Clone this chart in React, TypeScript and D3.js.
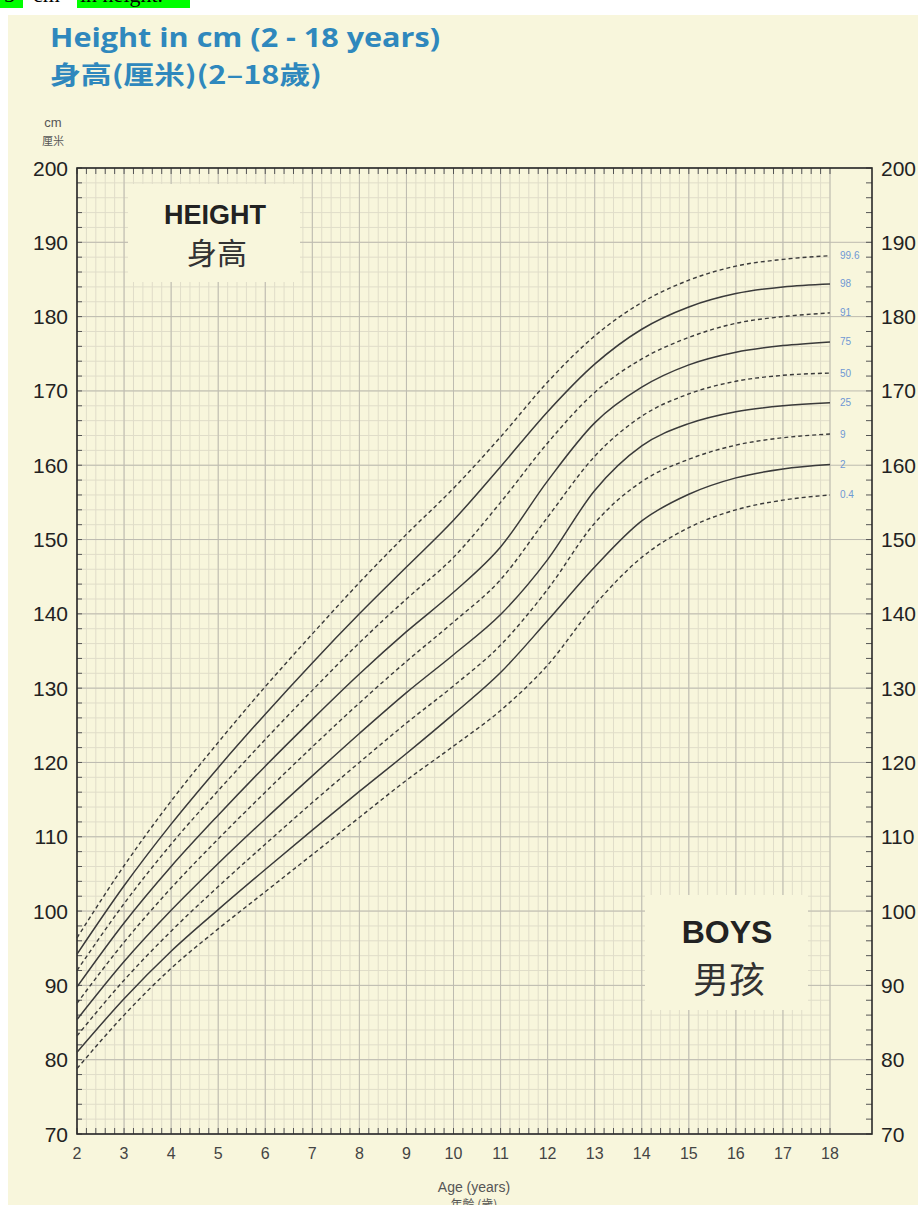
import React from "react";
import * as d3 from "d3";

// ---------- data ----------
const ages = [2, 3, 4, 5, 6, 7, 8, 9, 10, 11, 12, 13, 14, 15, 16, 17, 18];
const p0_4 = [78.8, 86.0, 92.3, 97.6, 102.6, 107.6, 112.6, 117.6, 122.2, 127.0, 133.1, 141.2, 147.6, 151.6, 154.0, 155.3, 156.0];
const p2 = [81.0, 88.2, 94.6, 100.2, 105.6, 110.9, 116.1, 121.2, 126.5, 132.1, 139.1, 146.3, 152.5, 156.1, 158.3, 159.5, 160.1];
const p9 = [83.2, 90.7, 97.3, 103.3, 109.0, 114.6, 120.0, 125.3, 130.3, 135.8, 143.3, 152.2, 157.8, 160.8, 162.7, 163.7, 164.2];
const p25 = [85.4, 93.2, 100.1, 106.4, 112.4, 118.2, 123.9, 129.4, 134.5, 139.9, 147.3, 156.6, 162.6, 165.6, 167.2, 168.0, 168.4];
const p50 = [87.6, 95.8, 103.1, 109.7, 116.0, 122.1, 128.0, 133.6, 138.9, 144.6, 153.0, 161.2, 166.6, 169.6, 171.3, 172.1, 172.4];
const p75 = [89.8, 98.4, 106.0, 112.9, 119.5, 125.8, 131.9, 137.6, 142.9, 149.0, 157.9, 165.7, 170.5, 173.5, 175.2, 176.1, 176.6];
const p91 = [92.0, 101.0, 109.0, 116.2, 123.1, 129.7, 136.1, 142.0, 147.6, 155.0, 163.0, 169.8, 174.3, 177.2, 179.1, 180.0, 180.5];
const p98 = [94.2, 103.4, 111.7, 119.3, 126.5, 133.4, 140.0, 146.3, 152.6, 159.8, 167.2, 173.6, 178.3, 181.3, 183.1, 184.0, 184.4];
const p99_6 = [96.4, 106.1, 114.8, 122.7, 130.2, 137.3, 144.2, 150.7, 156.9, 163.8, 171.2, 177.4, 181.9, 184.9, 186.8, 187.7, 188.2];

const centileLabels = ["99.6", "98", "91", "75", "50", "25", "9", "2", "0.4"];
const centileValues = [p99_6, p98, p91, p75, p50, p25, p9, p2, p0_4];
const centileDashed = [true, false, true, false, true, false, true, false, true];

const yTickLabels = [70, 80, 90, 100, 110, 120, 130, 140, 150, 160, 170, 180, 190, 200];
const xTickLabels = [2, 3, 4, 5, 6, 7, 8, 9, 10, 11, 12, 13, 14, 15, 16, 17, 18];

// ---------- layout ----------
const W = 918;
const H = 1205;
const x = d3.scaleLinear().domain([2, 18]).range([77, 830]);
const y = d3.scaleLinear().domain([70, 200]).range([1134, 168]);
const frameRight = 872;

const BG = "#f8f6dc";
const BLUE = "#2f88bd";
const LABEL_BLUE = "#6f98d4";
const MAJOR = "#bdbbb0";
const MINOR = "#e0ddc9";
const INK = "#3a3a3a";

export default function App() {
  const line = d3
    .line<number>()
    .x((_, i) => x(ages[i]))
    .y((d) => y(d))
    .curve(d3.curveMonotoneX);

  const minorX = d3.range(2, 18.001, 0.2).map((v) => +v.toFixed(1));
  const minorY = d3.range(70, 200.001, 2);

  const top = y(200);
  const bottom = y(70);
  const left = x(2);

  const sans = "'Liberation Sans', Arial, sans-serif";
  const cjk = "'Noto Sans CJK TC', 'Noto Sans CJK SC', sans-serif";

  return (
    <svg
      width={W}
      height={H}
      style={{ position: "absolute", left: 0, top: 0, display: "block" }}
    >
      <rect x={0} y={0} width={W} height={H} fill="#fff" />
      {/* clipped highlighted text at very top */}
      <rect x={0} y={0} width={23} height={8} fill="#00ff00" />
      <rect x={77} y={0} width={113} height={8} fill="#00ff00" />
      <text x={4} y={2} fontFamily="'Liberation Serif', serif" fontSize={22} fill="#000">
        5
      </text>
      <text x={33} y={2} fontFamily="'Liberation Serif', serif" fontSize={22} fill="#000">
        cm
      </text>
      <text x={80} y={2} fontFamily="'Liberation Serif', serif" fontSize={22} fill="#000">
        in height.
      </text>

      <rect x={8} y={15} width={W - 8} height={H - 15} fill={BG} />

      {/* titles */}
      <text
        x={50}
        y={47}
        fontFamily="'Open Sans', sans-serif"
        fontWeight={700}
        fontSize={27}
        fill={BLUE}
        textLength={390}
        lengthAdjust="spacingAndGlyphs"
      >
        Height in cm (2 - 18 years)
      </text>
      <text x={50} y={84} fontFamily={cjk} fontWeight={700} fontSize={25} fill={BLUE} textLength={272} lengthAdjust="spacingAndGlyphs">
        身高(厘米)(2–18歲)
      </text>
      <text x={53} y={127} textAnchor="middle" fontFamily={sans} fontSize={13} fill="#555">
        cm
      </text>
      <text x={53} y={145} textAnchor="middle" fontFamily={cjk} fontSize={11} fill="#555">
        厘米
      </text>

      {/* minor grid */}
      <g stroke={MINOR} strokeWidth={1}>
        {minorX.map((v) => (
          <line key={"mx" + v} x1={x(v)} x2={x(v)} y1={top} y2={bottom} />
        ))}
        {minorY.map((v) => (
          <line key={"my" + v} x1={left} x2={x(18)} y1={y(v)} y2={y(v)} />
        ))}
      </g>
      {/* major grid */}
      <g stroke={MAJOR} strokeWidth={1}>
        {xTickLabels.map((v) => (
          <line key={"Mx" + v} x1={x(v)} x2={x(v)} y1={top} y2={bottom} />
        ))}
        {yTickLabels.map((v) => (
          <line key={"My" + v} x1={left} x2={frameRight} y1={y(v)} y2={y(v)} />
        ))}
      </g>

      {/* label boxes masking grid */}
      <rect x={128} y={184} width={172} height={98} fill={BG} />
      <rect x={645} y={895} width={163} height={115} fill={BG} />

      {/* ticks */}
      <g stroke="#555" strokeWidth={1}>
        {minorX.map((v) => (
          <g key={"tx" + v}>
            <line x1={x(v)} x2={x(v)} y1={top} y2={top + 6} />
            <line x1={x(v)} x2={x(v)} y1={bottom} y2={bottom - 6} />
          </g>
        ))}
        {minorY.map((v) => (
          <g key={"ty" + v}>
            <line x1={left} x2={left + 5} y1={y(v)} y2={y(v)} />
            <line x1={frameRight} x2={frameRight - 6} y1={y(v)} y2={y(v)} />
          </g>
        ))}
      </g>

      {/* frame */}
      <rect
        x={left}
        y={top}
        width={frameRight - left}
        height={bottom - top}
        fill="none"
        stroke="#2a2a2a"
        strokeWidth={1.6}
      />

      {/* centile curves */}
      {centileValues.map((vals, i) => (
        <path
          key={"c" + i}
          d={line(vals) || ""}
          fill="none"
          stroke={INK}
          strokeWidth={centileDashed[i] ? 1.4 : 1.5}
          strokeDasharray={centileDashed[i] ? "4 3" : undefined}
        />
      ))}
      {centileValues.map((vals, i) => (
        <text
          key={"l" + i}
          x={x(18) + 10}
          y={y(vals[vals.length - 1])}
          dy="0.35em"
          fontFamily={sans}
          fontSize={10}
          fill={LABEL_BLUE}
        >
          {centileLabels[i]}
        </text>
      ))}

      {/* y labels */}
      {yTickLabels.map((v) => (
        <g key={"yl" + v}>
          <text x={68} y={y(v)} dy="0.36em" textAnchor="end" fontFamily={sans} fontSize={21} fill="#222">
            {v}
          </text>
          <text x={881} y={y(v)} dy="0.36em" textAnchor="start" fontFamily={sans} fontSize={21} fill="#222">
            {v}
          </text>
        </g>
      ))}

      {/* x labels */}
      {xTickLabels.map((v) => (
        <text key={"xl" + v} x={x(v)} y={1159} textAnchor="middle" fontFamily={sans} fontSize={16} fill="#444">
          {v}
        </text>
      ))}
      <text x={474} y={1192} textAnchor="middle" fontFamily={sans} fontSize={14} fill="#555">
        Age (years)
      </text>
      <text x={474} y={1209} textAnchor="middle" fontFamily={cjk} fontSize={12} fill="#555">
        年齡 (歲)
      </text>

      {/* corner labels */}
      <text x={215} y={224} textAnchor="middle" fontFamily={sans} fontWeight={700} fontSize={27} fill="#222">
        HEIGHT
      </text>
      <text x={217} y={264} textAnchor="middle" fontFamily={cjk} fontSize={30} fill="#333">
        身高
      </text>
      <text x={727} y={943} textAnchor="middle" fontFamily={sans} fontWeight={700} fontSize={32} fill="#222">
        BOYS
      </text>
      <text x={729} y={993} textAnchor="middle" fontFamily={cjk} fontSize={36} fill="#333">
        男孩
      </text>
    </svg>
  );
}
